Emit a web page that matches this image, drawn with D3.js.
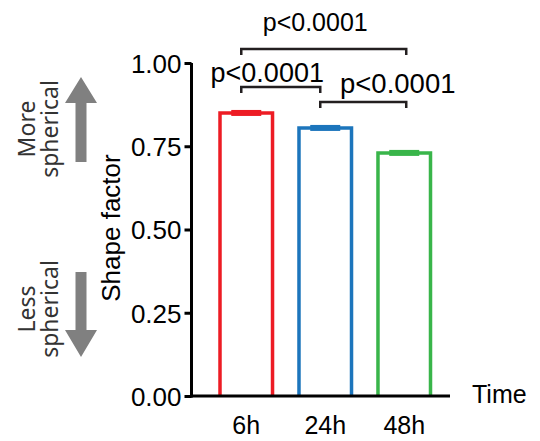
<!DOCTYPE html>
<html><head><meta charset="utf-8">
<script src="https://cdn.jsdelivr.net/npm/d3@7"></script>
<style>html,body{margin:0;padding:0;background:#fff;}svg{display:block;}</style>
</head><body>
<svg id="c" width="540" height="441"></svg>
<script>
const categories = ["6h", "24h", "48h"];
const means = [0.850, 0.805, 0.730];
const sems = [0.009, 0.009, 0.009];
const colors = ["#ED1C24", "#1C75BC", "#39B54A"];
const yTicks = [0, 0.25, 0.5, 0.75, 1.0];
const comparisons = [
  {a: 0, b: 1, y: 0.928, label: "p<0.0001"},
  {a: 1, b: 2, y: 0.883, label: "p<0.0001"},
  {a: 0, b: 2, y: 1.042, label: "p<0.0001"}
];
const yTitle = "Shape factor";
const xTitle = "Time";

const svg = d3.select("#c");
const font = "'Liberation Sans', Arial, sans-serif";
const x = d3.scaleBand().domain(categories).range([220, 430.5]).paddingInner(0.335).paddingOuter(0);
const y = d3.scaleLinear().domain([0, 1]).range([396, 63]);
const xc = d => x(d) + x.bandwidth() / 2;

// bars (outlined)
svg.selectAll("path.bar").data(categories).join("path")
  .attr("class", "bar")
  .attr("d", (c, i) => `M${x(c)},${y(0)}V${y(means[i])}H${x(c) + x.bandwidth()}V${y(0)}`)
  .attr("fill", "none").attr("stroke", (c, i) => colors[i]).attr("stroke-width", 3.5);

// error bars
svg.selectAll("rect.err").data(categories).join("rect")
  .attr("x", c => xc(c) - 15).attr("width", 30)
  .attr("y", (c, i) => y(means[i] + sems[i]))
  .attr("height", (c, i) => y(means[i] - sems[i]) - y(means[i] + sems[i]))
  .attr("fill", (c, i) => colors[i]);

// y axis
const ya = svg.append("g").attr("transform", "translate(191.5,0)")
  .call(d3.axisLeft(y).tickValues(yTicks).tickFormat(d3.format(".2f")).tickSize(7).tickPadding(3));
ya.select(".domain").attr("stroke", "#000").attr("stroke-width", 3).attr("d", `M0,${y(0)+1.5}V${y(1)}`);
ya.selectAll(".tick line").attr("stroke", "#000").attr("stroke-width", 3);
ya.selectAll(".tick text").attr("font-family", font).attr("font-size", 26).attr("fill", "#000").attr("dy", "0.36em");

// x axis line
svg.append("line").attr("x1", 190).attr("x2", 450).attr("y1", y(0)).attr("y2", y(0))
  .attr("stroke", "#000").attr("stroke-width", 3);

// x labels
svg.selectAll("text.xl").data(categories).join("text")
  .attr("x", c => xc(c)).attr("y", 434).attr("text-anchor", "middle")
  .attr("font-family", font).attr("font-size", 25).attr("fill", "#000").text(c => c);

svg.append("text").attr("x", 472).attr("y", 403).attr("font-family", font).attr("font-size", 25).text(xTitle);

svg.append("text").attr("transform", "translate(120,228) rotate(-90)").attr("text-anchor", "middle")
  .attr("font-family", font).attr("font-size", 26).text(yTitle);

// brackets
const labelDx = [-13.5, 34.5, -8.5];
const labelDy = [-5, -9, -18];
const labelSize = [27, 27.5, 25];
comparisons.forEach((cmp, i) => {
  const x1 = xc(categories[cmp.a]) - 5;
  const x2 = xc(categories[cmp.b]) + (cmp.b === 1 ? -5 : 2);
  const yy = y(cmp.y);
  svg.append("path").attr("d", `M${x1},${yy + 6}V${yy}H${x2}V${yy + 6}`)
    .attr("fill", "none").attr("stroke", "#231F20").attr("stroke-width", 2.5);
  svg.append("text").attr("x", (x1 + x2) / 2 + labelDx[i]).attr("y", yy + labelDy[i])
    .attr("text-anchor", "middle").attr("font-family", font).attr("font-size", labelSize[i]).attr("fill", "#000")
    .text(cmp.label);
});

// annotation arrows
const g = svg.append("g");
g.append("path").attr("d", "M81,77L97,103H86.5V162H75.5V103H65Z").attr("fill", "#808080");
g.append("path").attr("d", "M81,357L97,330H86.5V272H75.5V330H65Z").attr("fill", "#808080");
const afont = "'Noto Sans', 'Open Sans', sans-serif";
[["More", "spherical", 129], ["Less", "spherical", 309]].forEach(([l1, l2, cy]) => {
  const t = g.append("text").attr("transform", `translate(35,${cy}) rotate(-90)`)
    .attr("text-anchor", "middle").attr("font-family", afont).attr("font-size", 23).attr("fill", "#333");
  t.append("tspan").attr("x", 0).attr("dy", 0).text(l1);
  t.append("tspan").attr("x", 0).attr("dy", 23).text(l2);
});
</script>
</body></html>
